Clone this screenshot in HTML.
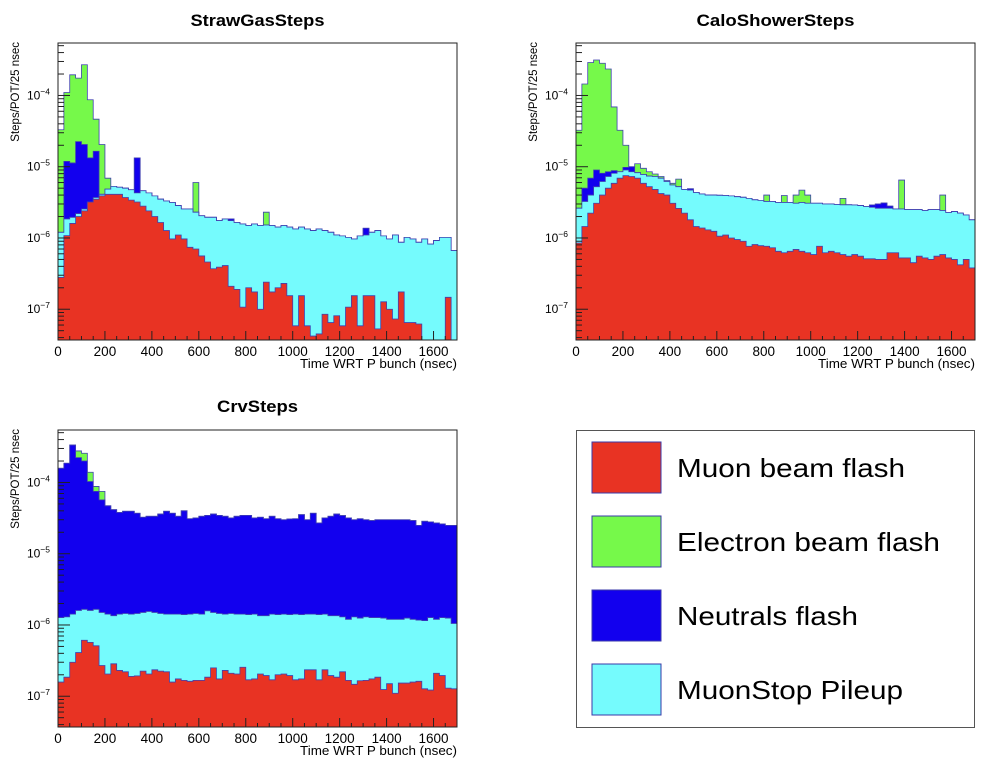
<!DOCTYPE html>
<html><head><meta charset="utf-8"><style>
html,body{margin:0;padding:0;background:#fff;}
svg{display:block;font-family:"Liberation Sans",sans-serif;}
</style></head><body>
<svg id="root" width="992" height="774" viewBox="0 0 992 774" xmlns="http://www.w3.org/2000/svg">
<g>
<rect x="576.5" y="430.5" width="398" height="297" fill="#fff" stroke="#555" stroke-width="1"/>
<g><rect x="592" y="442" width="69" height="51" fill="#e83323" stroke="#3a3aa8"/><text x="677" y="477" font-size="26" textLength="228" lengthAdjust="spacingAndGlyphs">Muon beam flash</text></g>
<g><rect x="592" y="516" width="69" height="51" fill="#76f94a" stroke="#3a3aa8"/><text x="677" y="551" font-size="26" textLength="263" lengthAdjust="spacingAndGlyphs">Electron beam flash</text></g>
<g><rect x="592" y="590" width="69" height="51" fill="#1200ee" stroke="#3a3aa8"/><text x="677" y="625" font-size="26" textLength="181" lengthAdjust="spacingAndGlyphs">Neutrals flash</text></g>
<g><rect x="592" y="664" width="69" height="51" fill="#75fbfd" stroke="#3a3aa8"/><text x="677" y="699" font-size="26" textLength="226" lengthAdjust="spacingAndGlyphs">MuonStop Pileup</text></g>
</g>
</svg>
<script>
// Stack-level values (cumulative stack height, Steps/POT/25 nsec), 68 bins of 25 ns from 0 to 1700 ns.
// For neutrals / electron arrays, 0 means "no visible contribution above the layer below".
const binWidth = 25;
const xTicks = [0,200,400,600,800,1000,1200,1400,1600];
const yDecades = [-7,-6,-5,-4];
const panelTitles = ["StrawGasSteps","CaloShowerSteps","CrvSteps"];

const strawMuon = [2.8e-7,1.08e-6,1.6e-6,2e-6,2.4e-6,3.2e-6,3.5e-6,3.9e-6,4.1e-6,4.1e-6,4.1e-6,3.7e-6,3.4e-6,3.2e-6,2.8e-6,2.4e-6,2e-6,1.65e-6,1.27e-6,9.7e-7,1.1e-6,9.7e-7,7.4e-7,7e-7,5.6e-7,4.6e-7,3.7e-7,3.9e-7,4.1e-7,2.1e-7,1.9e-7,1.07e-7,2e-7,1.75e-7,1e-7,2.4e-7,1.75e-7,2e-7,2.3e-7,1.55e-7,5.85e-8,1.55e-7,5.85e-8,4.2e-8,4.5e-8,8.5e-8,6.5e-8,8.1e-8,5.85e-8,1.07e-7,1.55e-7,5.85e-8,1.55e-7,1.55e-7,5.3e-8,1.27e-7,1e-7,7.3e-8,1.75e-7,6.5e-8,6.5e-8,6.2e-8,0,0,0,0,1.47e-7,0];
const strawPileup = [1.2e-6,1.85e-6,1.95e-6,2.2e-6,2.55e-6,3.15e-6,3.7e-6,4.1e-6,4.85e-6,5.3e-6,5.15e-6,5e-6,4.75e-6,4.3e-6,4.6e-6,4.3e-6,3.9e-6,3.5e-6,3.3e-6,3.15e-6,2.85e-6,2.55e-6,2.55e-6,2.3e-6,2.05e-6,1.95e-6,1.95e-6,1.75e-6,1.85e-6,1.75e-6,1.65e-6,1.57e-6,1.5e-6,1.57e-6,1.5e-6,1.52e-6,1.5e-6,1.42e-6,1.5e-6,1.42e-6,1.34e-6,1.42e-6,1.34e-6,1.27e-6,1.34e-6,1.27e-6,1.2e-6,1.1e-6,1.07e-6,1.02e-6,9.7e-7,1.07e-6,1.1e-6,1.2e-6,1.27e-6,1.07e-6,9.7e-7,1.1e-6,8.7e-7,1.02e-6,9.7e-7,8.7e-7,9.7e-7,8.2e-7,9.2e-7,1.02e-6,1.02e-6,6.65e-7];
const strawNeutrals = [0,1.19e-5,1.13e-5,2.25e-5,2.05e-5,1.33e-5,1.65e-5,0,0,0,0,0,0,1.33e-5,0,0,0,0,0,0,0,0,0,0,0,0,0,0,0,1.85e-6,0,0,0,0,0,0,0,0,0,0,0,0,0,0,0,0,0,0,0,0,0,0,1.37e-6,0,0,0,0,0,0,0,0,0,0,0,0,0,0,0];
const strawElectron = [3.3e-5,1.1e-4,1.95e-4,1.75e-4,2.7e-4,8.7e-5,4.65e-5,2.05e-5,6.9e-6,0,0,0,0,0,0,0,0,0,0,0,0,0,0,6e-6,0,0,0,0,0,0,0,0,0,0,0,2.3e-6,0,0,0,0,0,0,0,0,0,0,0,0,0,0,0,0,0,0,0,0,0,0,0,0,0,0,0,0,0,0,0,0];

const caloMuon = [8.5e-7,1.45e-6,2.23e-6,3.07e-6,4e-6,5e-6,5.85e-6,6.9e-6,7.5e-6,7.3e-6,6.9e-6,5.85e-6,5.25e-6,4.8e-6,4.2e-6,4e-6,3.07e-6,2.6e-6,2.23e-6,1.8e-6,1.45e-6,1.38e-6,1.3e-6,1.24e-6,1.06e-6,1.1e-6,1e-6,9.5e-7,9e-7,7.65e-7,8.1e-7,7.8e-7,7.65e-7,7.3e-7,6.5e-7,6.2e-7,6.5e-7,6.9e-7,6.5e-7,6.2e-7,5.85e-7,7.65e-7,6.2e-7,6.5e-7,6.2e-7,5.85e-7,5.55e-7,5.85e-7,5.55e-7,5.1e-7,5.1e-7,5e-7,5e-7,6.2e-7,6.2e-7,5.25e-7,5.25e-7,4.5e-7,5.55e-7,5.25e-7,5e-7,5.55e-7,5.85e-7,5.25e-7,5e-7,4.2e-7,5e-7,3.8e-7];
const caloPileup = [2.62e-6,3.25e-6,4e-6,5.25e-6,6.2e-6,7.3e-6,8.1e-6,8.5e-6,9e-6,8.5e-6,8.25e-6,7.8e-6,7.4e-6,7.3e-6,6.9e-6,6.2e-6,5.55e-6,5.25e-6,4.8e-6,4.7e-6,4.35e-6,4.15e-6,4e-6,4e-6,3.97e-6,3.95e-6,3.9e-6,3.8e-6,3.72e-6,3.6e-6,3.43e-6,3.37e-6,3.25e-6,3.25e-6,3.15e-6,3.15e-6,3.15e-6,3.07e-6,3.15e-6,3.07e-6,3.07e-6,3.07e-6,3e-6,3e-6,2.95e-6,2.92e-6,2.92e-6,2.9e-6,2.85e-6,2.77e-6,2.7e-6,2.62e-6,2.62e-6,2.62e-6,2.55e-6,2.55e-6,2.5e-6,2.5e-6,2.5e-6,2.43e-6,2.5e-6,2.5e-6,2.43e-6,2.28e-6,2.35e-6,2.23e-6,2.1e-6,1.8e-6];
const caloNeutrals = [0,5e-6,6.9e-6,9e-6,8.1e-6,8.5e-6,8.8e-6,8.1e-6,9.8e-6,1e-5,0,0,0,0,0,0,0,0,0,4.9e-6,0,0,0,0,0,0,0,0,0,0,0,0,0,0,0,0,0,0,0,0,0,0,0,0,0,0,0,0,0,0,2.9e-6,3e-6,3.1e-6,2.8e-6,0,0,0,0,0,0,0,0,0,0,0,0,0,0];
const caloElectron = [3.25e-5,1.45e-4,2.9e-4,3.15e-4,2.83e-4,2.35e-4,6.9e-5,3.25e-5,2e-5,0,1.1e-5,9.5e-6,8.5e-6,7.9e-6,7.3e-6,6.4e-6,5.85e-6,6.7e-6,0,0,0,0,0,0,0,0,0,0,0,0,0,0,4e-6,0,0,3.95e-6,0,4e-6,4.7e-6,4e-6,0,0,0,0,0,3.6e-6,0,0,0,0,0,0,0,0,0,6.5e-6,0,0,0,0,0,0,4e-6,0,0,0,0,0];

const crvMuon = [1.58e-7,1.85e-7,3e-7,4.1e-7,6.1e-7,5.7e-7,5.1e-7,2.7e-7,2.05e-7,2.85e-7,2.3e-7,2.2e-7,1.9e-7,1.93e-7,2.25e-7,2.05e-7,2.35e-7,2.25e-7,2.2e-7,1.58e-7,1.75e-7,1.67e-7,1.62e-7,1.67e-7,1.67e-7,1.85e-7,2.5e-7,1.75e-7,2.3e-7,2.1e-7,2.05e-7,2.55e-7,1.7e-7,1.75e-7,2.05e-7,1.95e-7,1.7e-7,2e-7,2.05e-7,1.95e-7,1.7e-7,1.75e-7,2.35e-7,2.35e-7,1.7e-7,2.35e-7,1.95e-7,1.85e-7,2.2e-7,1.67e-7,1.47e-7,1.65e-7,1.67e-7,1.75e-7,1.85e-7,1.24e-7,1.5e-7,1.1e-7,1.53e-7,1.53e-7,1.58e-7,1.62e-7,1.27e-7,1.22e-7,2.1e-7,1.95e-7,1.3e-7,1.27e-7];
const crvPileup = [1.27e-6,1.3e-6,1.42e-6,1.6e-6,1.66e-6,1.6e-6,1.66e-6,1.5e-6,1.42e-6,1.35e-6,1.42e-6,1.45e-6,1.42e-6,1.45e-6,1.5e-6,1.55e-6,1.5e-6,1.45e-6,1.42e-6,1.42e-6,1.42e-6,1.4e-6,1.42e-6,1.45e-6,1.42e-6,1.58e-6,1.5e-6,1.45e-6,1.42e-6,1.45e-6,1.42e-6,1.42e-6,1.4e-6,1.42e-6,1.35e-6,1.35e-6,1.42e-6,1.4e-6,1.42e-6,1.4e-6,1.42e-6,1.4e-6,1.42e-6,1.42e-6,1.4e-6,1.42e-6,1.35e-6,1.35e-6,1.3e-6,1.2e-6,1.3e-6,1.25e-6,1.3e-6,1.27e-6,1.27e-6,1.25e-6,1.2e-6,1.2e-6,1.2e-6,1.25e-6,1.2e-6,1.17e-6,1.15e-6,1.27e-6,1.2e-6,1.27e-6,1.25e-6,1.05e-6];
const crvNeutrals = [1.58e-4,1.86e-4,3.35e-4,2.23e-4,2e-4,1.03e-4,7.5e-5,5.7e-5,4.7e-5,4.15e-5,3.8e-5,3.95e-5,3.95e-5,3.7e-5,3.25e-5,3.35e-5,3.35e-5,3.6e-5,3.95e-5,3.7e-5,3.35e-5,4e-5,3.1e-5,3.18e-5,3.35e-5,3.45e-5,3.6e-5,3.45e-5,3.35e-5,3.18e-5,3.35e-5,3.45e-5,3.45e-5,3.18e-5,3.25e-5,3.1e-5,3.35e-5,3.1e-5,3e-5,3.07e-5,3.1e-5,3.53e-5,3e-5,3.7e-5,2.7e-5,3.18e-5,3.35e-5,3.6e-5,3.43e-5,3.18e-5,3e-5,3.1e-5,3e-5,2.92e-5,3e-5,3e-5,3e-5,3e-5,3e-5,3e-5,2.92e-5,2.5e-5,2.85e-5,2.8e-5,2.7e-5,2.62e-5,2.5e-5,2.5e-5];
const crvElectron = [0,0,0,2.77e-4,2.57e-4,1.39e-4,8.8e-5,7.5e-5,0,0,0,0,0,0,0,0,0,0,0,0,0,0,0,0,0,0,0,0,0,0,0,0,0,0,0,0,0,0,0,0,0,0,0,0,0,0,0,0,0,0,0,0,0,0,0,0,0,0,0,0,0,0,0,0,0,0,0,0];

const NS = "http://www.w3.org/2000/svg";
const svg = document.getElementById('root');
const colors = {muon:"#e83323", pileup:"#75fbfd", neutrals:"#1200ee", electron:"#76f94a"};
const X_MAX = 1700, Y_MIN = 3.7e-8, Y_MAX = 5.45e-4;

function mk(tag, attrs, parent){
  const e = document.createElementNS(NS, tag);
  for (const k in attrs) e.setAttribute(k, attrs[k]);
  (parent||svg).appendChild(e);
  return e;
}

function drawPanel(p){
  const L=p.left, R=p.left+399, T=p.top, B=p.top+297;
  const xs = t => L + (t/X_MAX)*(R-L);
  const ys = v => {
    const c = Math.max(Math.min(v, Y_MAX), Y_MIN*0.5);
    return B - (Math.log10(c)-Math.log10(Y_MIN))/(Math.log10(Y_MAX)-Math.log10(Y_MIN))*(B-T);
  };
  const g = mk('g', {});
  
  
  const clip = mk('clipPath', {id:'clip'+p.name}, g);
  mk('rect', {x:L, y:T, width:R-L, height:B-T}, clip);
  const hg = mk('g', {'clip-path':'url(#clip'+p.name+')'}, g);
  const layers = [["muon",p.muon],["pileup",p.pileup],["neutrals",p.neutrals],["electron",p.electron]];
  let below = p.muon.map(()=>0);
  const levels = [];
  layers.forEach(([key, arr])=>{
    const lvl = arr.map((v,i)=>Math.max(v, below[i]));
    levels.push([key, lvl]);
    below = lvl;
  });
  for (let li = levels.length-1; li>=0; li--){
    const [key,lvl] = levels[li];
    let d = 'M'+xs(0)+','+(B+2);
    lvl.forEach((v,i)=>{
      const y = v>0 ? ys(v) : B+2;
      d += ' L'+xs(i*binWidth)+','+y+' L'+xs((i+1)*binWidth)+','+y;
    });
    d += ' L'+xs(lvl.length*binWidth)+','+(B+2)+' Z';
    const path = mk('path', {d:d, fill:colors[key], stroke:'#4040b0', 'stroke-width':'0.8'}, hg);
    
    
  }
  const frame = mk('rect', {x:L, y:T, width:R-L, height:B-T, fill:'none', stroke:'#222', 'stroke-width':'1'}, g);
  
  
  const lo = Math.log10(Y_MIN), hi = Math.log10(Y_MAX);
  for (let e=-8; e<=-3; e++){
    for (let m=1; m<=9; m++){
      const v = m*Math.pow(10,e);
      const lv = Math.log10(v);
      if (lv<lo || lv>hi) continue;
      const y = ys(v);
      mk('line', {x1:L, x2:L+(m===1?12:6), y1:y, y2:y, stroke:'#222', 'stroke-width':'1'}, g);
    }
  }
  yDecades.forEach(e=>{
    const y = ys(Math.pow(10,e));
    const t = mk('text', {x:L-8, y:y+4, 'font-size':'12', 'text-anchor':'end'}, g);
    
    
    t.textContent = '10';
    const s = mk('tspan', {dy:'-5', 'font-size':'8.5'}, t);
    s.textContent = '\u2212'+(-e);
  });
  for (let t=0; t<=X_MAX; t+=50){
    const x = xs(t);
    const major = t%200===0;
    mk('line', {x1:x, x2:x, y1:B, y2:B-(major?9:4), stroke:'#222', 'stroke-width':'1'}, g);
  }
  xTicks.forEach(t=>{
    const tx = mk('text', {x:xs(t), y:B+16, 'font-size':'13.5', 'text-anchor':'middle'}, g);
    
    
    tx.textContent = t;
  });
  const xt = mk('text', {x:R, y:B+28, 'font-size':'13', 'text-anchor':'end', textLength:'157', lengthAdjust:'spacingAndGlyphs'}, g);
  
  
  xt.textContent = 'Time WRT P bunch (nsec)';
  const yt = mk('text', {x:0, y:0, 'font-size':'11.5', 'text-anchor':'end', transform:'translate('+(L-39)+','+(T-1)+') rotate(-90)'}, g);
  
  
  yt.textContent = 'Steps/POT/25 nsec';
  const tt = mk('text', {x:(L+R)/2, y:p.titleY, 'font-size':'17', 'font-weight':'bold', 'text-anchor':'middle', textLength:p.titleW, lengthAdjust:'spacingAndGlyphs'}, g);
  
  
  tt.textContent = p.title;
}

drawPanel({name:'straw-gas-panel', title:panelTitles[0], left:58, top:43, titleY:26, titleW:134, muon:strawMuon, pileup:strawPileup, neutrals:strawNeutrals, electron:strawElectron});
drawPanel({name:'calo-shower-panel', title:panelTitles[1], left:576, top:43, titleY:26, titleW:158, muon:caloMuon, pileup:caloPileup, neutrals:caloNeutrals, electron:caloElectron});
drawPanel({name:'crv-panel', title:panelTitles[2], left:58, top:430, titleY:412, titleW:81, muon:crvMuon, pileup:crvPileup, neutrals:crvNeutrals, electron:crvElectron});
</script>
</body></html>
